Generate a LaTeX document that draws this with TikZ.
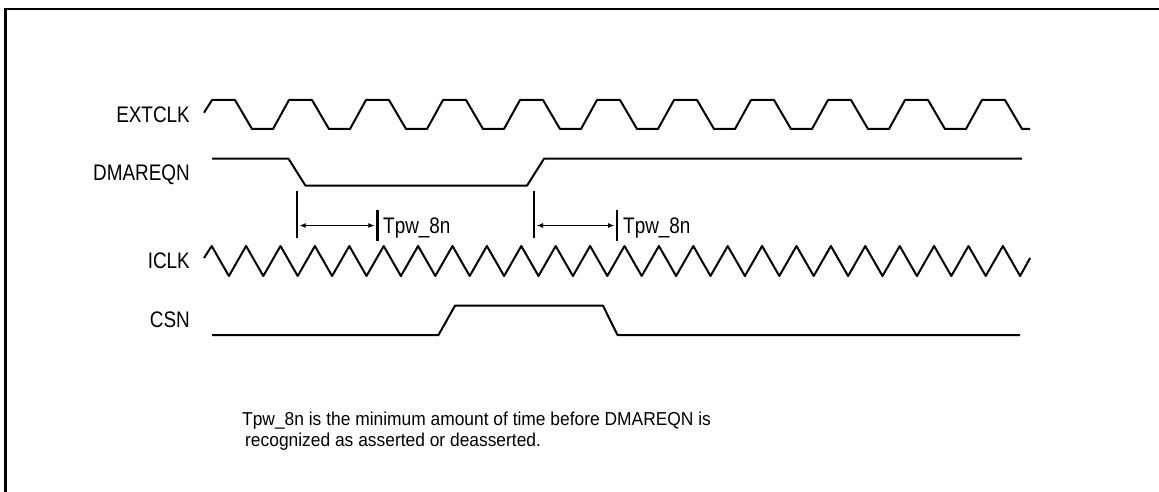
\documentclass[tikz,border=0pt]{standalone}
\usepackage{fontspec}
\setmainfont{Liberation Sans}[FakeStretch=0.84]
\newfontfamily\notefont{Liberation Sans}[FakeStretch=0.93]
\usetikzlibrary{positioning,arrows.meta}

\tikzset{
  sig/.style={black, line width=2pt, line join=round},
  siglabel/.style={anchor=base east, inner sep=0pt, font=\fontsize{22.5}{26}\selectfont},
  markline/.style={black, line width=2.4pt},
  span/.style={black, line width=1.7pt, {Latex[length=6.5pt,width=5pt]}-{Latex[length=6.5pt,width=5pt]}},
  notetext/.style={anchor=base west, inner sep=0pt, font=\notefont\fontsize{18.7}{21}\selectfont},
}

\begin{document}
\begin{tikzpicture}[x=1pt, y=-1pt]
\clip (0,0) rectangle (1159,492);
% frame
\draw[black, line width=2.2pt] (5.5,600) -- (5.5,9.3) -- (1300,9.3);
% signal names
\node[siglabel] (extclk) at (190,122.4) {EXTCLK};
\node[siglabel] (dmareqn) at (190,180.4) {DMAREQN};
\node[siglabel] (iclk) at (190,268.6) {ICLK};
\node[siglabel] (csn) at (190,327.9) {CSN};
% waveforms
\draw[sig] (204,112.7) -- (212,100)
  \foreach \k in {1,...,10} { -- ++(23,0) -- ++(17,29) -- ++(21,0) -- ++(16,-29) }
  -- ++(23,0) -- ++(17,29) -- ++(8,0);
\draw[sig] (212,158.7) -- (288.5,158.7) -- (305.5,185.7) -- (527,185.7) -- (544,158.7) -- (1022,158.7);
\draw[sig] (204,258) -- (211.7,246)
  \foreach \k in {1,...,23} { -- ++(17.2,30) -- ++(17.2,-30) }
  -- ++(17.2,30) -- ++(10,-18);
\draw[sig] (212,335) -- (438.5,335) -- (455,305.7) -- (603,305.7) -- (617.5,335) -- (1020,335);
% Tpw_8n markers
\coordinate (m1top) at (296.7,190.7);
\coordinate (m1bot) at (296.7,238.3);
\coordinate (m2top) at (377.3,210);
\coordinate (m2bot) at (377.3,240.7);
\coordinate (m3top) at (534,190.7);
\coordinate (m3bot) at (534,238.3);
\coordinate (m4top) at (617,210);
\coordinate (m4bot) at (617,240.7);
\draw[markline] (m1top) -- (m1bot);
\draw[markline] (m2top) -- (m2bot);
\draw[markline] (m3top) -- (m3bot);
\draw[markline] (m4top) -- (m4bot);
\coordinate (s1) at (296.7,225.5);
\coordinate (e1) at (377.3,225.5);
\coordinate (s2) at (534,225.5);
\coordinate (e2) at (617,225.5);
\draw[span, shorten <=2.5pt, shorten >=2.5pt] (s1) -- (e1);
\draw[span, shorten <=2.5pt, shorten >=2.5pt] (s2) -- (e2);
\node[siglabel, anchor=base west] (tpw1) at (383,233) {Tpw\_8n};
\node[siglabel, anchor=base west] (tpw2) at (623,233) {Tpw\_8n};
% note
\node[notetext] (note1) at (242,425.7) {Tpw\_8n is the minimum amount of time before DMAREQN is};
\node[notetext] (note2) at (245,446.7) {recognized as asserted or deasserted.};
\end{tikzpicture}
\end{document}
